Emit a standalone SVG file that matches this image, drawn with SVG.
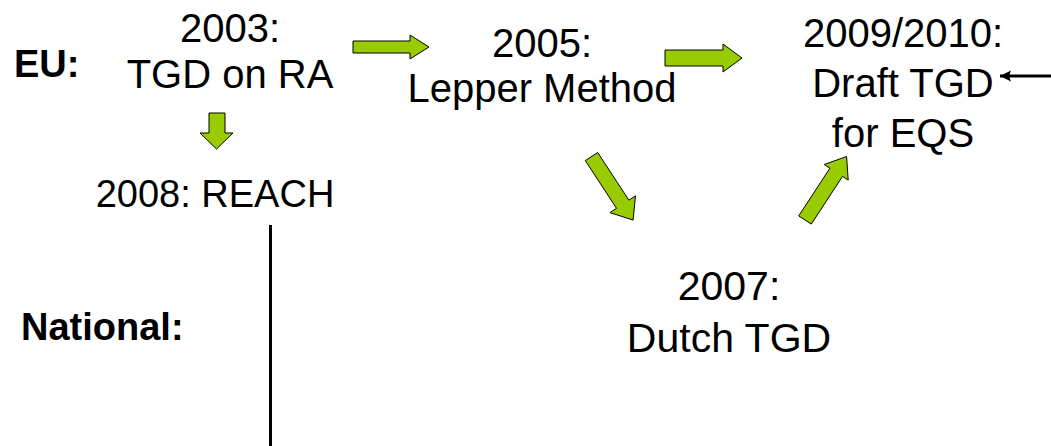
<svg xmlns="http://www.w3.org/2000/svg" width="1051" height="446" viewBox="0 0 1051 446">
<style>
  text { font-family: "Liberation Sans", Arial, sans-serif; fill: #000; }
  .lbl { font-size: 40px; text-anchor: middle; }
  .hdr { font-size: 38px; font-weight: bold; }
  .garrow { fill: #99CC00; stroke: #000; stroke-width: 1; stroke-linejoin: miter; }
  .line { stroke: #000; stroke-width: 3; fill: none; }
</style>
<defs>
  <marker id="ah" markerWidth="12" markerHeight="12" refX="11" refY="6" orient="auto" markerUnits="userSpaceOnUse">
    <path d="M0,0.5 L11,6 L0,11.5 L2,6 Z" fill="#000"/>
  </marker>
</defs>
<rect width="1051" height="446" fill="#fff"/>
<text class="hdr" x="14" y="77">EU:</text>
<text class="hdr" x="21" y="340">National:</text>
<g id="n2003">
  <text class="lbl" x="230" y="42">2003:</text>
  <text class="lbl" x="230" y="88">TGD on RA</text>
</g>
<g id="n2005">
  <text class="lbl" x="542" y="57">2005:</text>
  <text class="lbl" x="542" y="102">Lepper Method</text>
</g>
<g id="n2009">
  <text class="lbl" x="903" y="47">2009/2010:</text>
  <text class="lbl" x="903" y="97">Draft TGD</text>
  <text class="lbl" x="903" y="147">for EQS</text>
</g>
<g id="n2008">
  <text class="lbl" x="215" y="207" style="font-size:38px">2008: REACH</text>
</g>
<g id="n2007">
  <text class="lbl" x="729" y="300" style="font-size:41px">2007:</text>
  <text class="lbl" x="729" y="352" style="font-size:41px">Dutch TGD</text>
</g>
<g id="connectors">
  <polygon class="garrow" points="353,41 410,41 410,35 429,47 410,59 410,53 353,53"/>
  <polygon class="garrow" points="665,50 723,50 723,44 742,58 723,72 723,66 665,66"/>
  <polygon class="garrow" points="209,113 225,113 225,133 233,133 216.5,149 200,133 209,133"/>
  <polygon class="garrow" points="597.7,152.5 628.9,200.2 635.5,195.8 633.1,220.1 609.9,212.6 616.5,208.3 585.3,160.6"/>
  <polygon class="garrow" points="811.3,224.1 842.5,176.4 848.2,180.1 846.6,156.5 824.2,164.5 829.9,168.2 798.7,215.9"/>
  <line class="line" x1="1051" y1="76" x2="1000" y2="76" marker-end="url(#ah)"/>
  <line class="line" x1="270.5" y1="225" x2="270.5" y2="446"/>
</g>
</svg>
